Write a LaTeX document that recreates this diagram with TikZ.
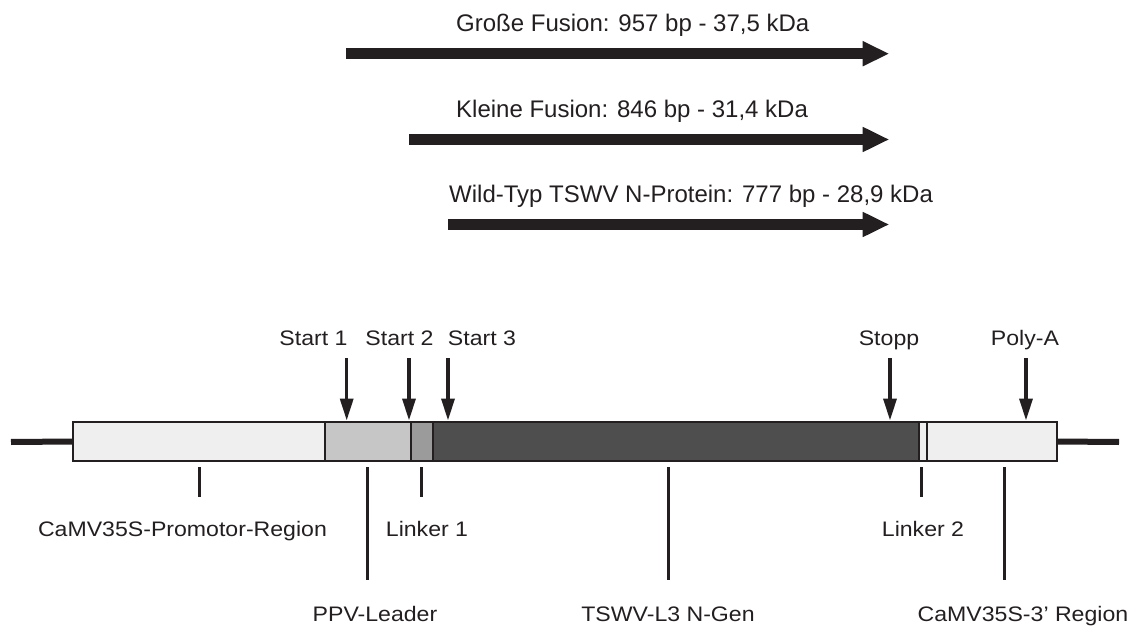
\documentclass[tikz,border=0pt]{standalone}
\usepackage{fontspec}
\setmainfont{Liberation Sans}
\newfontfamily\lblfont{Liberation Sans}[FakeStretch=1.1]
\usetikzlibrary{arrows.meta}
\definecolor{ink}{HTML}{231F20}
\definecolor{pale}{HTML}{EFEFEF}
\definecolor{ppv}{HTML}{C6C6C6}
\definecolor{lnk}{HTML}{9B9B9B}
\definecolor{gene}{HTML}{4E4E4E}
\tikzset{
  toptext/.style={anchor=base west, inner sep=0pt, text=ink, font=\fontsize{24}{28}\selectfont},
  lbl/.style={anchor=base, inner sep=0pt, text=ink, font=\lblfont\fontsize{21}{25}\selectfont},
  bigarrow/.style={draw=ink, line width=10.7pt, -{Triangle[length=26.6pt, width=23.3pt]}},
  downarrow/.style={draw=ink, line width=3.4pt, -{Triangle[length=22pt, width=13pt]}},
  seg/.style={draw=ink, line width=2pt, rectangle, inner sep=0pt, outer sep=0pt, minimum height=39pt},
  backbone/.style={draw=ink, line width=6pt},
  tickline/.style={draw=ink, line width=3pt},
}
\begin{document}
\begin{tikzpicture}[x=1pt, y=-1pt]
\useasboundingbox (0,0) rectangle (1140,628);

% top arrows
\node[toptext] (t1) at (456,32) {Große Fusion: 957 bp - 37,5 kDa};
\node[toptext] (t2) at (456,118) {Kleine Fusion: 846 bp - 31,4 kDa};
\node[toptext] (t3) at (449,203) {Wild-Typ TSWV N-Protein: 777 bp - 28,9 kDa};
\coordinate (a1s) at (346,53.7);  \coordinate (a1e) at (889.3,53.7);
\coordinate (a2s) at (409,139.5); \coordinate (a2e) at (889.3,139.5);
\coordinate (a3s) at (448,224.5); \coordinate (a3e) at (889.3,224.5);
\draw[bigarrow] (a1s) -- (a1e);
\draw[bigarrow] (a2s) -- (a2e);
\draw[bigarrow] (a3s) -- (a3e);

% bar segments
\node[seg, fill=pale, minimum width=251.7pt] (prom) at ({(73.3+325)/2},441.5) {};
\node[seg, fill=ppv,  minimum width=86pt]    (ppvl) at ({(325+411)/2},441.5) {};
\node[seg, fill=lnk,  minimum width=22pt]    (lk1)  at ({(411+433)/2},441.5) {};
\node[seg, fill=gene, minimum width=485.5pt] (gen)  at ({(433+918.5)/2},441.5) {};
\node[seg, fill=pale, minimum width=8.5pt]   (lk2)  at ({(918.5+927)/2},441.5) {};
\node[seg, fill=pale, minimum width=129.6pt] (ter)  at ({(927+1056.6)/2},441.5) {};
\coordinate (lend) at (11,442);
\coordinate (rend) at (1119,442);
\draw[backbone] (lend) -- (prom.west);
\draw[backbone] (ter.east) -- (rend);

% site labels and arrows
\node[lbl] (s1) at (313.5,345) {Start 1};
\node[lbl] (s2) at (399.5,345) {Start 2};
\node[lbl] (s3) at (482,345) {Start 3};
\node[lbl] (st) at (889,345) {Stopp};
\node[lbl] (pa) at (1025,345) {Poly-A};
\foreach \n/\x in {s1/346.7, s2/409, s3/448, st/890, pa/1026}{
  \coordinate (\n top) at (\x,358);
  \coordinate (\n tip) at (\x,420.5);
  \draw[downarrow] (\n top) -- (\n tip);
}

% region ticks
\foreach \n/\x/\l in {tp/199/497, tv/367.7/580, tl/421/497, tg/668/580, tk/921/497, tt/1004.5/580}{
  \coordinate (\n a) at (\x,467);
  \coordinate (\n b) at (\x,\l);
  \draw[tickline] (\n a) -- (\n b);
}

% region labels
\node[lbl] (lp) at (182.5,536) {CaMV35S-Promotor-Region};
\node[lbl] (l1) at (427,536) {Linker 1};
\node[lbl] (l2) at (923,536) {Linker 2};
\node[lbl] (lv) at (375,621) {PPV-Leader};
\node[lbl] (lg) at (668,621) {TSWV-L3 N-Gen};
\node[lbl] (lt) at (1023,621) {CaMV35S-3’ Region};
\end{tikzpicture}
\end{document}
